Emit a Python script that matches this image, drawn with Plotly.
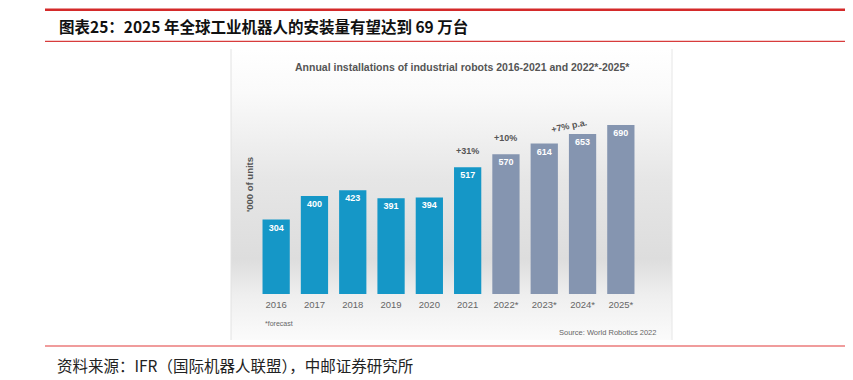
import base64
import plotly.graph_objects as go

# ---- data ----
years = ["2016", "2017", "2018", "2019", "2020", "2021", "2022*", "2023*", "2024*", "2025*"]
installs = [304, 400, 423, 391, 394, 517, 570, 614, 653, 690]
is_forecast = [False] * 6 + [True] * 4
growth_labels = {"2021": "+31%", "2022*": "+10%"}

# ---- geometry helpers (reference pixel -> paper); page body has an 8px margin ----
OFF = 8
W_FIG, H_FIG = 853 - OFF, 380 - OFF
ML, MR, MT, MB = 257 - OFF, 213, 100 - OFF, 86
PW = W_FIG - ML - MR
PH = H_FIG - MT - MB
BASE = 294  # reference pixel of bar baseline


def px(x):
    return (x - 257) / PW


def py(y):
    return (BASE - y) / PH


blue = "#1597c7"
grey = "#8595b0"
colors = [grey if f else blue for f in is_forecast]

fig = go.Figure()
fig.add_trace(go.Bar(
    x=years, y=installs,
    marker=dict(color=colors, line=dict(width=0)),
    text=[str(v) for v in installs],
    textposition="inside", insidetextanchor="end",
    textangle=0, constraintext="none",
    textfont=dict(family="Liberation Sans, Arial", size=9, color="white", weight="bold"),
    hoverinfo="skip",
))

# background gradient panel (embedded image look)
svg = """<svg xmlns='http://www.w3.org/2000/svg' width='441' height='291' viewBox='0 0 441 291' preserveAspectRatio='none'>
<defs><linearGradient id='g' x1='0' y1='0' x2='0' y2='1'>
<stop offset='0' stop-color='#ffffff'/>
<stop offset='0.15' stop-color='#fafafa'/>
<stop offset='0.45' stop-color='#e6e6e6'/>
<stop offset='0.72' stop-color='#dddddd'/>
<stop offset='0.85' stop-color='#efefef'/>
<stop offset='1' stop-color='#fbfbfb'/>
</linearGradient></defs>
<rect width='441' height='291' fill='url(#g)'/>
</svg>"""
src = "data:image/svg+xml;base64," + base64.b64encode(svg.encode()).decode()
fig.add_layout_image(dict(
    source=src, xref="paper", yref="paper",
    x=px(231), y=py(49), sizex=px(672) - px(231), sizey=py(49) - py(340),
    xanchor="left", yanchor="top", sizing="stretch", layer="below",
))

shapes = [
    dict(type="line", xref="paper", yref="paper", x0=px(45), x1=px(851), y0=py(9.7), y1=py(9.7),
         line=dict(color="#d42a2a", width=2.5)),
    dict(type="line", xref="paper", yref="paper", x0=px(45), x1=px(851), y0=py(41.3), y1=py(41.3),
         line=dict(color="#d83c3c", width=1.2)),
    dict(type="line", xref="paper", yref="paper", x0=px(45), x1=px(851), y0=py(346), y1=py(346),
         line=dict(color="#e23a3a", width=1.2)),
    dict(type="line", xref="paper", yref="paper", x0=px(231), x1=px(231), y0=py(49), y1=py(340),
         line=dict(color="#e2e2e2", width=1)),
    dict(type="line", xref="paper", yref="paper", x0=px(672), x1=px(672), y0=py(49), y1=py(340),
         line=dict(color="#e6e6e6", width=1)),
]


def pann(text, x, y, size, color, xanchor="center", angle=0, family="Liberation Sans, Arial"):
    return dict(text=text, x=px(x), y=py(y), xref="paper", yref="paper", xanchor=xanchor,
                yanchor="middle", showarrow=False, textangle=angle,
                font=dict(family=family, size=size, color=color))


annotations = [
    pann("<b>图表25：2025 年全球工业机器人的安装量有望达到 69 万台</b>", 57, 26, 15.5, "#111",
         xanchor="left", family="Noto Sans CJK SC"),
    pann("资料来源：IFR（国际机器人联盟），中邮证券研究所", 55, 365, 15.5, "#222",
         xanchor="left", family="Noto Sans CJK SC"),
    pann("<b>Annual installations of industrial robots 2016-2021 and 2022*-2025*</b>", 462, 67, 10.5, "#555"),
    pann("<b>'000 of units</b>", 249, 185, 9.5, "#555", angle=-90),
    pann("*forecast", 263, 323, 7, "#666", xanchor="left"),
    pann("Source: World Robotics 2022", 658, 332, 7.5, "#666", xanchor="right"),
    pann("<b>+7% p.a.</b>", 569, 125.7, 9, "#555", angle=-12),
]
for yr, lab in growth_labels.items():
    i = years.index(yr)
    annotations.append(dict(text="<b>" + lab + "</b>", x=i, y=installs[i], xref="x", yref="y",
                            yshift=9, xanchor="center", yanchor="bottom", showarrow=False,
                            font=dict(family="Liberation Sans, Arial", size=9, color="#555")))

fig.update_layout(
    width=W_FIG, height=H_FIG,
    margin=dict(l=ML, r=MR, t=MT, b=MB, autoexpand=False),
    paper_bgcolor="white", plot_bgcolor="rgba(0,0,0,0)",
    bargap=0.288, showlegend=False,
    shapes=shapes, annotations=annotations,
    xaxis=dict(type="category", range=[-0.5, 9.5], showgrid=False, zeroline=False, showline=False,
               ticks="", ticklabelstandoff=3,
               tickfont=dict(family="Liberation Sans, Arial", size=9.5, color="#666"),
               fixedrange=True),
    yaxis=dict(range=[0, PH / 0.245], visible=False, fixedrange=True),
)

fig.write_html("out.html")
